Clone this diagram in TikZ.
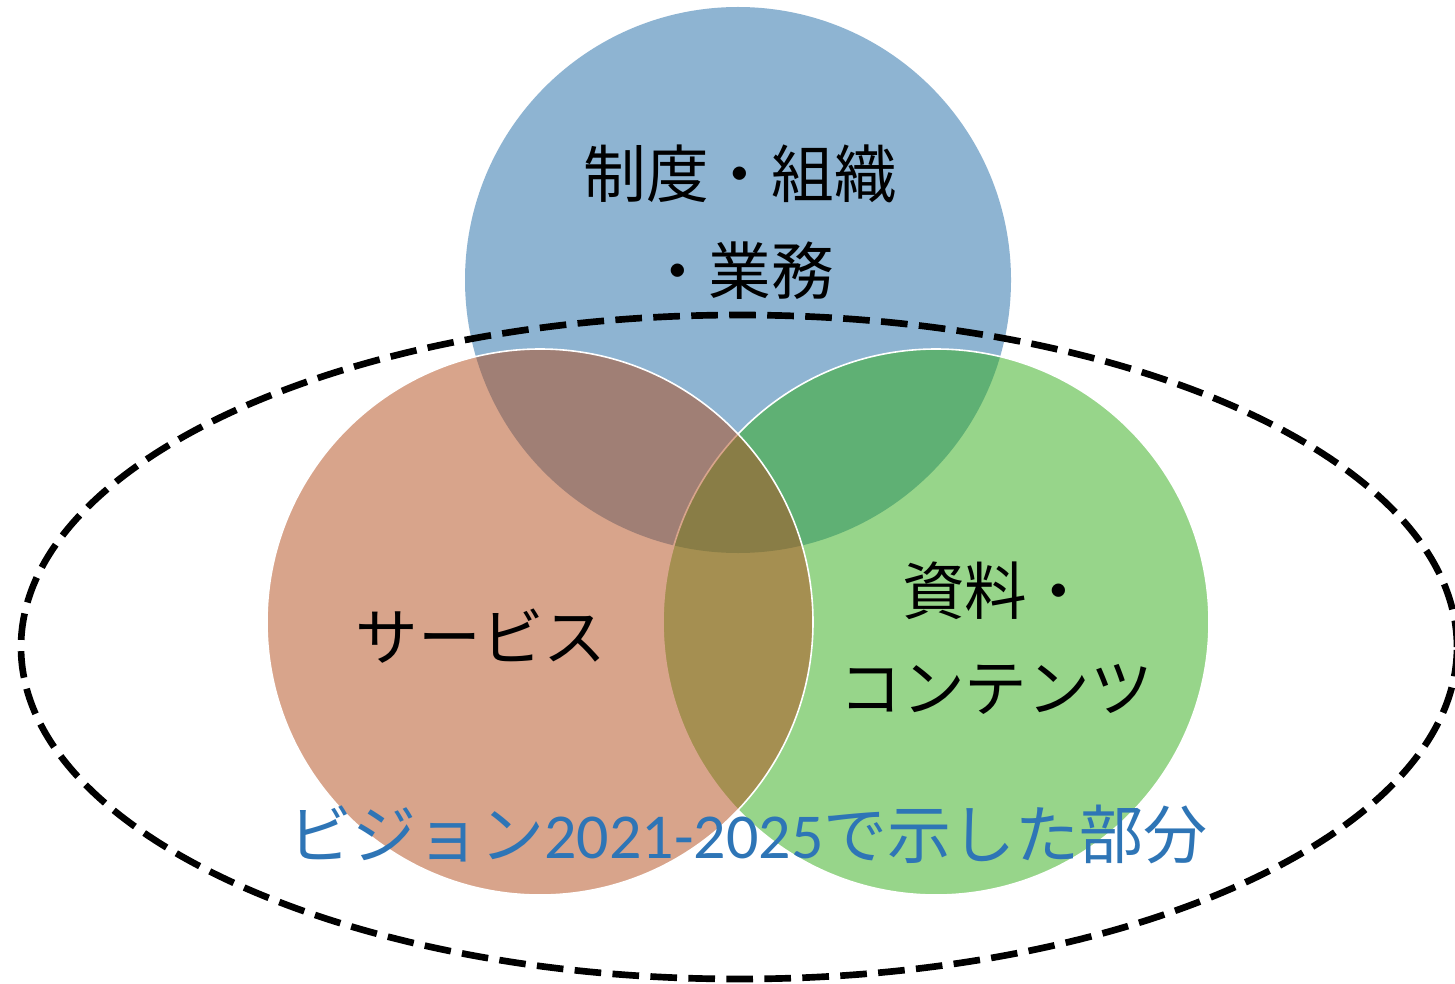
\documentclass[tikz,border=0pt]{standalone}
\usepackage{fontspec}
\newfontfamily\jp{Noto Sans CJK JP}
\newfontfamily\lat{Carlito}
\definecolor{cblue}{HTML}{1F6BA7}
\definecolor{corange}{HTML}{B34B19}
\definecolor{cgreen}{HTML}{31AD17}
\definecolor{ctext}{HTML}{2E75B6}
\begin{document}
\begin{tikzpicture}[x=0.75pt,y=-0.75pt,
  venn/.style={circle, minimum size=409.5pt, inner sep=0pt, fill opacity=0.5},
  lbl/.style={align=center, text=black, font=\jp\fontsize{47}{73}\selectfont, inner sep=0pt},
  scope/.style={draw=black, line width=5pt, dash pattern=on 20pt off 8.5pt}
]
\useasboundingbox (0,0) rectangle (1455,984);
\fill[white] (0,0) rectangle (1455,984);
\node[venn, fill=cblue] (blue) at (738,280) {};
\node[venn, fill=cgreen, draw=white, draw opacity=1, line width=1.2pt] (green) at (936,622) {};
\node[venn, fill=corange, draw=white, draw opacity=1, line width=1.2pt] (orange) at (540,622) {};
\node[lbl] (t1) at (740,222) {制度・組織\\・業務};
\node[lbl] (t2) at (481,636) {サービス};
\node[lbl] (t3) at (996,638) {資料・\\コンテンツ};
\node[inner sep=0pt, text=ctext, font=\jp\fontsize{48}{56}\selectfont] (t4) at (748,834) {ビジョン{\lat 2021-2025}で示した部分};
\coordinate (ec) at (739,647);
\draw[scope] (ec) ellipse [x radius=538.5pt, y radius=249pt];
\end{tikzpicture}
\end{document}
